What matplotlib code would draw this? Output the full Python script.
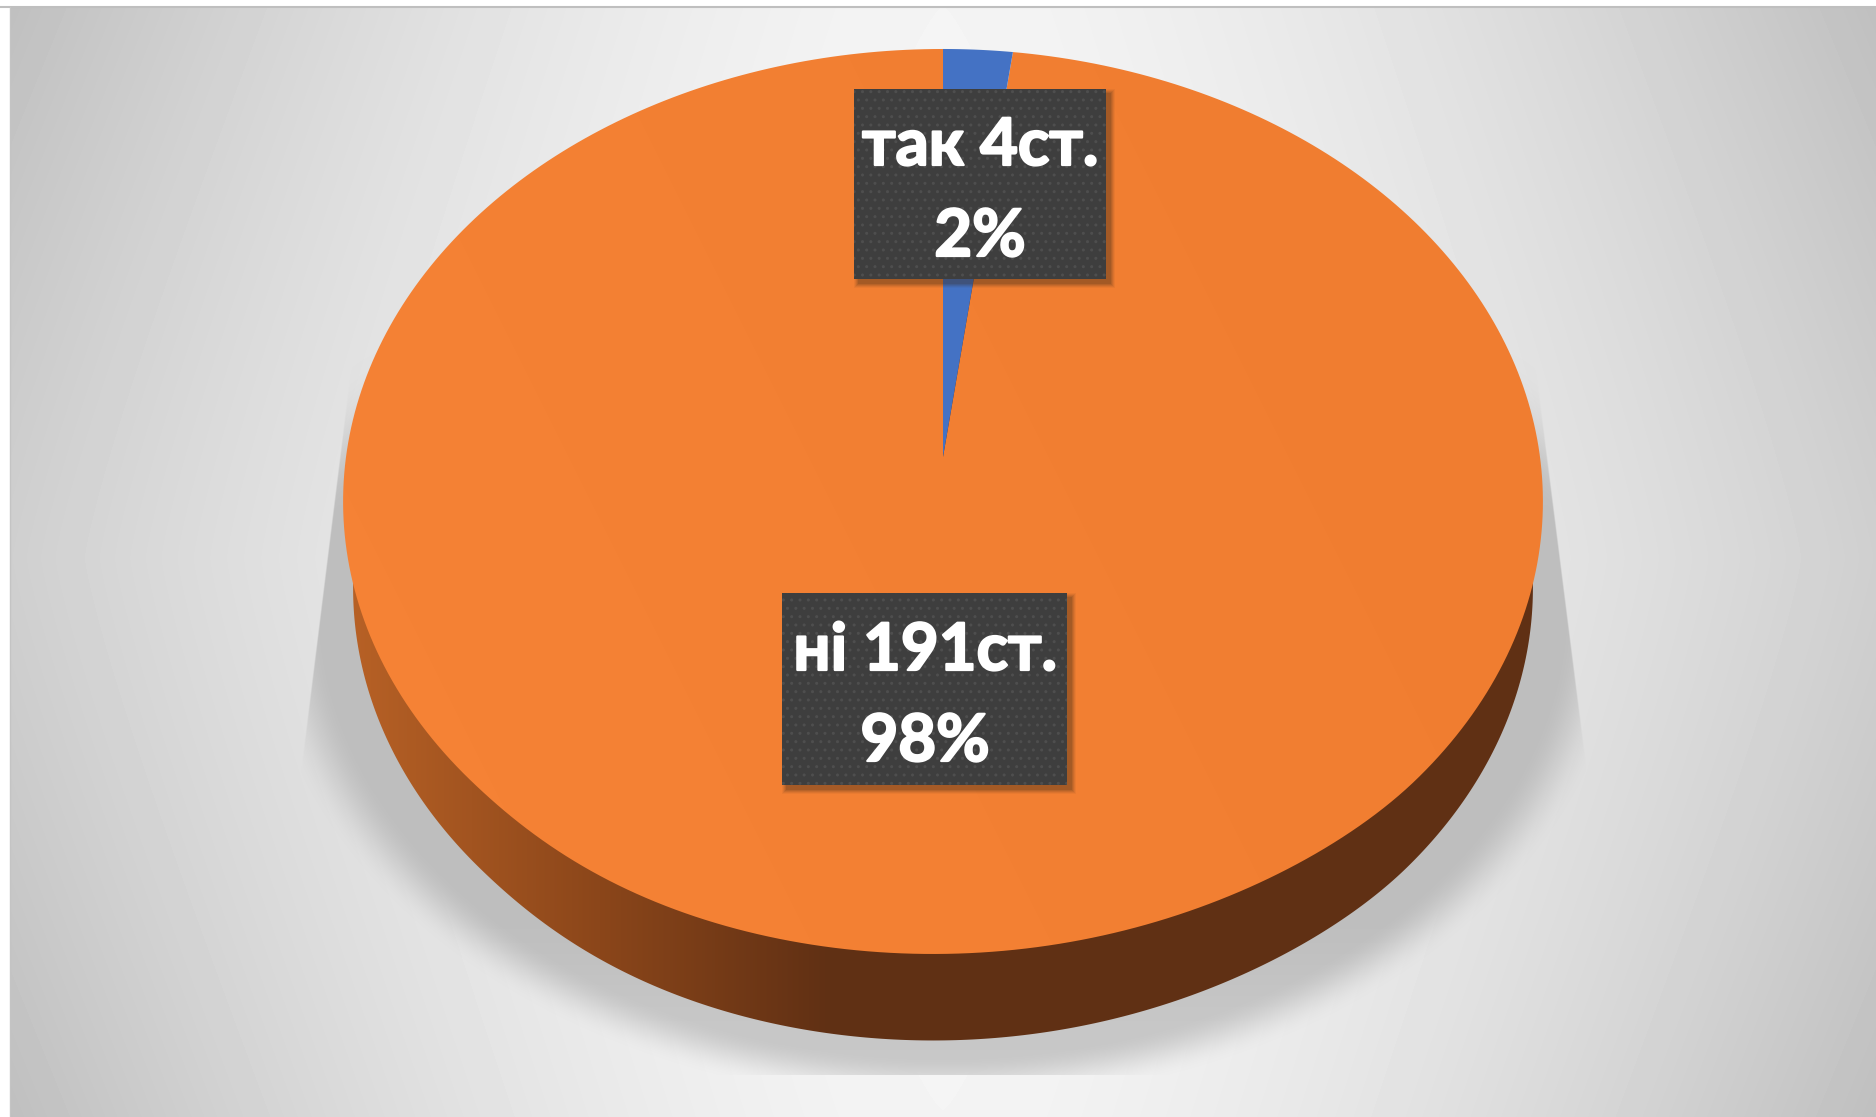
import numpy as np
import matplotlib
matplotlib.use("Agg")
import matplotlib.pyplot as plt
from matplotlib.patches import Polygon, Rectangle
import matplotlib.patheffects as pe

categories = ["так", "ні"]
counts = [4, 191]
unit = "ст."

W, H = 1876, 1117
fig = plt.figure(figsize=(W / 100, H / 100), dpi=100, facecolor="white")
ax = fig.add_axes([0, 0, 1, 1])
yy, xx = np.mgrid[0:H, 0:W] + 0.5

# background
cx, cy0 = 943.0, 558.0
u = np.abs(xx - cx) / 933.0
w = np.abs(yy - cy0) / 558.0
bg = 246 - 39 * u ** 1.7 - 14 * (u * w) ** 1.2 - 2 * w ** 2
ax.imshow(bg[7:, 10:], extent=(10, W, H, 7), cmap="gray", vmin=0, vmax=255,
          interpolation="nearest", zorder=1, aspect="auto")
ax.plot([0, W], [6.5, 6.5], color="#BFBFBF", lw=1.5, zorder=2, solid_capstyle="butt")
ax.plot([10, 10], [7, H], color="#C4C4C4", lw=1.0, zorder=2)


def smooth(t):
    t = np.clip(t, 0, 1)
    return t * t * (3 - 2 * t)


# cast shadow
r = np.sqrt(((xx - 943) / 655) ** 2 + ((yy - 605) / 478) ** 2)
edge = smooth((1.0 - r) / 0.10 + 0.45)
left_x = 352 + (yy - 355) * (303 - 352) / (750 - 355)
right_x = 1535 + (yy - 355) * (1585 - 1535) / (750 - 355)
side = smooth((xx - left_x) / 2.0) * smooth((right_x - xx) / 2.0)
vert = smooth((yy - 340) / 180.0)
alpha = edge * side * vert * (yy < 1075)
shadow = np.zeros((H, W, 4))
shadow[..., :3] = ((190 + 10 * smooth((yy - 900) / 150)) / 255)[..., None]
shadow[..., 3] = alpha
ax.imshow(shadow, extent=(0, W, H, 0), interpolation="nearest", zorder=3, aspect="auto")

# pie geometry: a flat disc seen in perspective
A, C, B, Y0 = 597.0, 0.0983, -403.2, 457.0


def project(theta):
    sx, sy = np.sin(theta), np.cos(theta)
    den = 1 + C * sy
    py = (Y0 + B * sy) / den
    # the lowest part of the rim leans slightly to the left in the reference
    return np.column_stack([cx + A * sx / den - 10 * smooth((py - 780) / 170), py])


ts = np.linspace(0, 2 * np.pi, 721)
rim = project(ts)

# side wall
bottom = np.column_stack([cx + (rim[:, 0] - cx) * 590 / 600, rim[:, 1] + 86.5])
px = np.array([[185, 98, 38], [139, 70, 26], [96, 48, 20], [96, 48, 20]], float)
stops = [343, 600, 830, 1600]
grad = np.stack([np.interp(np.arange(W) + 0.5, stops, px[:, i]) for i in range(3)], axis=-1)[None, :, :] / 255
im = ax.imshow(grad, extent=(0, W, H, 0), interpolation="nearest", zorder=4, aspect="auto")
im.set_clip_path(Polygon(bottom, closed=True, transform=ax.transData))

# top face, built from the values
colors = ["#4472C4", None]
fr = np.cumsum([0] + counts) / sum(counts)
for i, cat in enumerate(categories):
    th = np.linspace(fr[i], fr[i + 1], 361) * 2 * np.pi
    verts = np.vstack([[cx, Y0], project(th)])
    if colors[i]:
        ax.add_patch(Polygon(verts, closed=True, fc=colors[i], ec="none", zorder=6))
    else:
        t = np.clip((xx - yy * 0.5 - 100) / 1200, 0, 1)[..., None]
        face = (np.array([245, 130, 53.]) * (1 - t) + np.array([240, 125, 48.]) * t) / 255
        im2 = ax.imshow(face, extent=(0, W, H, 0), interpolation="nearest", zorder=5, aspect="auto")
        im2.set_clip_path(Polygon(verts, closed=True, transform=ax.transData))

# data labels
boxes = [(854, 89, 252, 190, 165, 256, 980), (782, 593, 285, 192, 670, 761, 925)]
font = ["Lato", "Open Sans", "DejaVu Sans"]
stroke = [pe.withStroke(linewidth=1.6, foreground="white")]
for i, cat in enumerate(categories):
    x, y, bw, bh, b1, b2, tx = boxes[i]
    for k, a in zip(range(9, 0, -2), (0.05, 0.08, 0.10, 0.12, 0.15)):
        ax.add_patch(Rectangle((x + 4 - k / 2, y + 4 - k / 2), bw + k, bh + k, fc="#3a2a1a", alpha=a,
                               ec="none", zorder=7))
    ax.add_patch(Rectangle((x, y), bw, bh, fc="#3E3E3E", ec="none", zorder=8))
    ax.add_patch(Rectangle((x, y), bw, bh, fc="none", ec="#4E4E4E", hatch="..", lw=0, zorder=8.5))
    pct = round(100 * counts[i] / sum(counts))
    ax.text(tx, b1, f"{cat} {counts[i]}{unit}", color="white", fontsize=47, fontweight="bold",
            family=font, ha="center", va="baseline", zorder=9, path_effects=stroke)
    ax.text(tx, b2, f"{pct}%", color="white", fontsize=47, fontweight="bold",
            family=font, ha="center", va="baseline", zorder=9, path_effects=stroke)

ax.set_xlim(0, W)
ax.set_ylim(H, 0)
ax.axis("off")
fig.savefig("out.png", dpi=100, facecolor="white")
